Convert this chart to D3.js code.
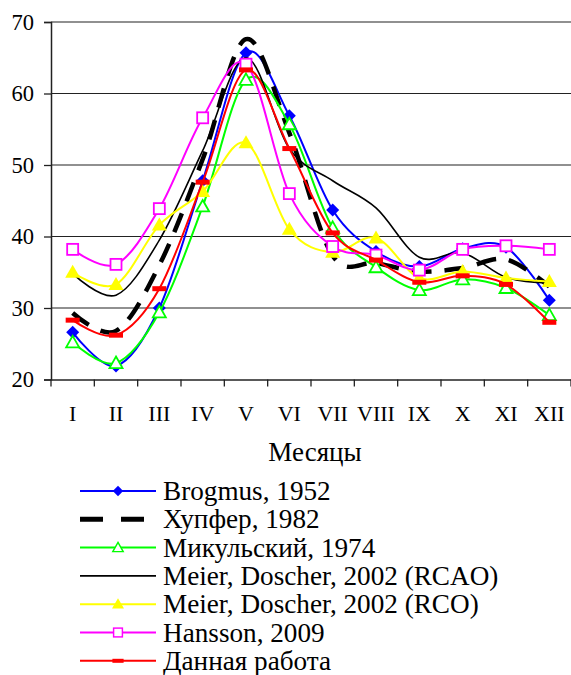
<!DOCTYPE html>
<html><head><meta charset="utf-8">
<script src="https://cdn.jsdelivr.net/npm/d3@7"></script>
<style>
html,body{margin:0;padding:0;background:#fff;}
svg{display:block;font-family:"Liberation Serif","Times New Roman",serif;}
</style></head>
<body>
<svg id="chart" width="571" height="675"></svg>
<script>
const months = ["I","II","III","IV","V","VI","VII","VIII","IX","X","XI","XII"];
const yTicks = [20,30,40,50,60,70];
const brogmus  = [26.6, 21.9, 30.0, 47.8, 65.7, 56.9, 43.7, 37.9, 35.8, 38.3, 38.5, 31.1];
const xupfer   = [29.3, 26.8, 36.0, 50.8, 67.6, 54.5, 37.3, 36.3, 35.1, 35.6, 36.8, 33.0];
const mikulsky = [25.2, 22.3, 29.4, 44.2, 61.9, 55.7, 41.2, 35.7, 32.5, 34.0, 32.8, 29.0];
const rcao     = [34.8, 31.8, 39.5, 52.0, 65.0, 52.3, 47.8, 44.0, 37.1, 37.7, 34.3, 33.5];
const rco      = [35.0, 33.3, 41.6, 46.3, 53.1, 41.0, 37.8, 39.8, 34.2, 35.1, 34.2, 33.7];
const hansson  = [38.2, 36.1, 43.9, 56.6, 64.1, 46.0, 38.6, 37.4, 35.3, 38.2, 38.7, 38.2];
const thisWork = [28.3, 26.2, 32.7, 47.6, 63.3, 52.3, 40.5, 36.7, 33.6, 34.5, 33.3, 28.0];
const legendLabels = ["Brogmus, 1952","Хупфер, 1982","Микульский, 1974","Meier, Doscher, 2002 (RCAO)","Meier, Doscher, 2002 (RCO)","Hansson, 2009","Данная работа"];

const series = [
  {name: legendLabels[0], values: brogmus,  color:"#0000ff", width:2,   dash:null,   marker:"diamond"},
  {name: legendLabels[1], values: xupfer,   color:"#000000", width:4.5, dash:"20,13", marker:null},
  {name: legendLabels[2], values: mikulsky, color:"#00ff00", width:2,   dash:null,   marker:"triOpen"},
  {name: legendLabels[3], values: rcao,     color:"#000000", width:1.6, dash:null,   marker:null},
  {name: legendLabels[4], values: rco,      color:"#ffff00", width:2,   dash:null,   marker:"triFill"},
  {name: legendLabels[5], values: hansson,  color:"#ff00ff", width:2,   dash:null,   marker:"square"},
  {name: legendLabels[6], values: thisWork, color:"#ff0000", width:2,   dash:null,   marker:"dash"}
];

const svg = d3.select("#chart");
const pLeft = 51, pRight = 571, pTop = 22, pBottom = 379.5;
const x = d3.scaleBand().domain(months).range([pLeft, pRight]).padding(0);
const cx = m => x(m) + x.bandwidth()/2;
const y = d3.scaleLinear().domain([20,70]).range([pBottom, pTop]);

// gridlines
svg.append("g").selectAll("line").data(yTicks.filter(v=>v>20)).join("line")
  .attr("x1", pLeft).attr("x2", pRight)
  .attr("y1", d=>y(d)).attr("y2", d=>y(d))
  .attr("stroke","#222").attr("stroke-width",1.1);

// y axis
const yAxis = d3.axisLeft(y).tickValues(yTicks).tickSize(7).tickPadding(10).tickFormat(d3.format("d"));
const gy = svg.append("g").attr("transform",`translate(${pLeft},0)`).call(yAxis);
gy.attr("font-family", null);
gy.select(".domain").attr("stroke","#222").attr("stroke-width",1.5);
gy.selectAll(".tick line").attr("stroke","#222").attr("stroke-width",1.3);
gy.selectAll("text").attr("font-size","22.5px").attr("fill","#000").attr("font-family","Liberation Serif");

// x axis (labels at centers)
const xAxis = d3.axisBottom(x).tickSize(0).tickPadding(26);
const gx = svg.append("g").attr("transform",`translate(0,${pBottom})`).call(xAxis);
gx.attr("font-family", null);
gx.select(".domain").attr("stroke","#222").attr("stroke-width",1.6);
gx.selectAll("text").attr("font-size","22px").attr("fill","#000").attr("font-family","Liberation Serif");
// boundary ticks
const bounds = months.map(m=>x(m)).concat([x.range()[1]]);
svg.append("g").selectAll("line").data(bounds).join("line")
  .attr("x1", d=>d).attr("x2", d=>d).attr("y1", pBottom).attr("y2", pBottom+7)
  .attr("stroke","#222").attr("stroke-width",1.3);

// axis title
svg.append("text").attr("x", 315).attr("y", 461).attr("text-anchor","middle")
  .attr("font-size","27px").text("Месяцы");

const line = d3.line().x((d,i)=>cx(months[i])).y(d=>y(d)).curve(d3.curveCardinal.tension(0));

function drawMarker(g, type, color, px, py){
  if(type==="diamond"){
    g.append("path").attr("d",`M${px},${py-6.5}L${px+6.5},${py}L${px},${py+6.5}L${px-6.5},${py}Z`).attr("fill",color);
  } else if(type==="triOpen"){
    g.append("path").attr("d",`M${px},${py-6.5}L${px+6.5},${py+5}L${px-6.5},${py+5}Z`)
      .attr("fill","#fff").attr("stroke",color).attr("stroke-width",1.8);
  } else if(type==="triFill"){
    g.append("path").attr("d",`M${px},${py-7.5}L${px+7.5},${py+5.5}L${px-7.5},${py+5.5}Z`).attr("fill",color);
  } else if(type==="square"){
    g.append("rect").attr("x",px-5.5).attr("y",py-5.5).attr("width",11).attr("height",11)
      .attr("fill","#fff").attr("stroke",color).attr("stroke-width",1.8);
  } else if(type==="dash"){
    g.append("rect").attr("x",px-7).attr("y",py-2.5).attr("width",14).attr("height",5).attr("fill",color);
  }
}

series.forEach(s=>{
  const g = svg.append("g");
  g.append("path").datum(s.values).attr("d", line).attr("fill","none")
    .attr("stroke", s.color).attr("stroke-width", s.width)
    .attr("stroke-dasharray", s.dash);
  if(s.marker){
    s.values.forEach((v,i)=>drawMarker(g, s.marker, s.color, cx(months[i]), y(v)));
  }
});

// legend
const lg = svg.append("g");
series.forEach((s,i)=>{
  const ly = 491 + i*28.3;
  const g = lg.append("g");
  g.append("line").attr("x1",80).attr("x2",156).attr("y1",ly).attr("y2",ly)
    .attr("stroke", s.color).attr("stroke-width", s.dash ? 5 : (s.width<2?1.6:2))
    .attr("stroke-dasharray", s.dash ? "23,18" : null);
  if(s.marker){
    const mg = g.append("g").attr("transform",`translate(118,${ly}) scale(0.8) translate(-118,${-ly})`);
    drawMarker(mg, s.marker, s.color, 118, ly);
  }
  g.append("text").attr("x",163).attr("y",ly+9).attr("font-size","27.2px").attr("fill","#000").text(s.name);
});
</script>
</body></html>
